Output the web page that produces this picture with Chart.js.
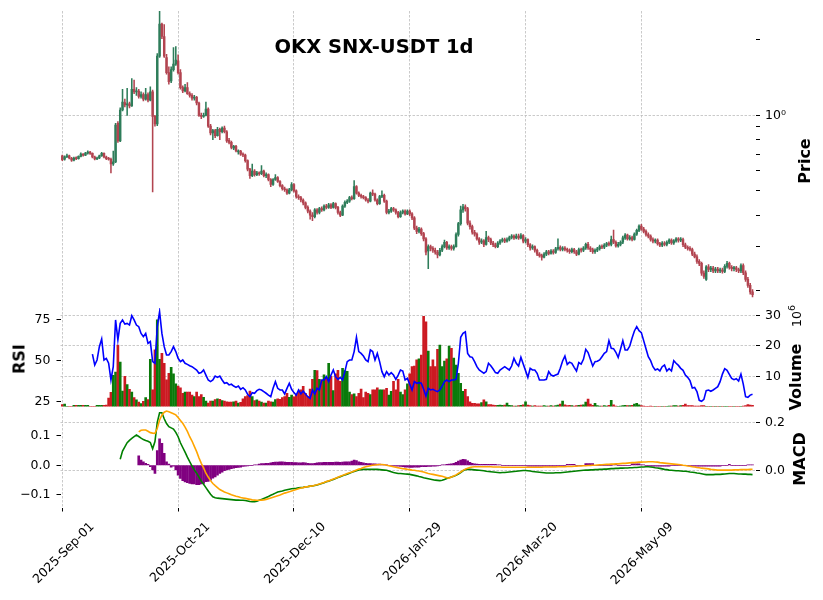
<!DOCTYPE html>
<html>
<head>
<meta charset="utf-8">
<script src="https://cdn.jsdelivr.net/npm/chart.js@4.4.1/dist/chart.umd.min.js"></script>
<style>
  body { margin: 0; background: #fff; }
  #wrap { position: relative; width: 823px; height: 600px; font-family: "DejaVu Sans", sans-serif; color: #000; }
  canvas { position: absolute; left: 0; top: 0; }
  .title { position: absolute; left: 374px; top: 35px; transform: translateX(-50%); font-weight: bold; font-size: 19.5px; white-space: nowrap; line-height: normal; }
  .lbl { position: absolute; white-space: nowrap; transform: translate(-50%, -50%) rotate(-90deg); font-weight: bold; font-size: 16px; }
  .lbl sup { font-size: 9.5px; vertical-align: 6px; }
</style>
</head>
<body>
<div id="wrap">
  <canvas id="priceChart" width="823" height="600"></canvas>
  <canvas id="volChart" width="823" height="600"></canvas>
  <canvas id="macdChart" width="823" height="600"></canvas>
  <div class="title">OKX SNX-USDT 1d</div>
  <div class="lbl" style="left:804px;top:161px">Price</div>
  <div class="lbl" style="left:19px;top:359px">RSI</div>
  <div class="lbl" style="left:795px;top:377px">Volume</div>
  <div class="lbl" style="left:795px;top:316px;font-weight:normal;font-size:12.5px">10<sup>6</sup></div>
  <div class="lbl" style="left:799px;top:459px">MACD</div>
</div>
<script>
// daily candles from 2025-09-01, one per index
const tickIdx = [0, 50, 100, 150, 200, 250];
const tickLabels = ["2025-Sep-01", "2025-Oct-21", "2025-Dec-10", "2026-Jan-29", "2026-Mar-20", "2026-May-09"];

const opens = [
  .690,.668,.684,.690,.674,.662,.676,.672,.686,.700,
  .694,.707,.714,.705,.682,.670,.676,.690,.706,.682,
  .672,.668,.640,.652,.930,.790,1.050,1.125,1.100,1.110,
  1.090,1.270,1.240,1.250,1.190,1.210,1.160,1.210,1.150,1.240,
  .990,.925,1.720,2.310,2.060,1.700,1.480,1.370,1.520,1.600,
  1.650,1.480,1.290,1.250,1.290,1.220,1.200,1.170,1.180,1.120,
  1.000,.990,1.000,1.060,.905,.850,.870,.830,.880,.860,
  .890,.860,.795,.780,.740,.752,.715,.720,.700,.695,
  .660,.610,.575,.600,.580,.590,.585,.600,.575,.580,
  .555,.530,.555,.565,.545,.525,.510,.505,.490,.505,
  .530,.500,.475,.470,.460,.448,.430,.415,.400,.395,
  .420,.410,.425,.420,.435,.430,.440,.430,.445,.430,
  .410,.400,.435,.450,.455,.470,.465,.520,.490,.480,
  .475,.470,.460,.455,.490,.485,.460,.445,.475,.480,
  .455,.410,.415,.425,.420,.410,.395,.410,.415,.405,
  .415,.405,.390,.355,.345,.352,.338,.322,.288,.300,
  .295,.290,.285,.278,.290,.300,.312,.296,.300,.295,
  .300,.335,.370,.420,.432,.425,.372,.360,.342,.336,
  .322,.312,.316,.306,.326,.320,.310,.305,.300,.310,
  .316,.320,.315,.320,.326,.330,.325,.330,.325,.332,
  .315,.320,.305,.296,.300,.290,.280,.276,.272,.280,
  .286,.282,.288,.284,.294,.298,.292,.296,.292,.290,
  .286,.292,.286,.280,.292,.290,.296,.306,.296,.292,
  .286,.290,.294,.300,.298,.304,.308,.306,.320,.312,
  .302,.306,.312,.325,.333,.322,.326,.320,.336,.348,
  .362,.352,.345,.335,.330,.320,.315,.318,.308,.304,
  .310,.306,.312,.318,.310,.316,.322,.318,.320,.305,
  .298,.295,.292,.280,.273,.262,.257,.235,.222,.249,
  .243,.246,.240,.244,.240,.242,.239,.250,.257,.248,
  .245,.247,.243,.240,.252,.236,.222,.210,.198
];
const highs = [
  .695,.690,.700,.694,.680,.682,.684,.690,.708,.704,
  .712,.722,.718,.708,.688,.682,.694,.712,.708,.688,
  .680,.676,.720,.930,.945,1.070,1.270,1.160,1.280,1.130,
  1.400,1.380,1.290,1.270,1.240,1.230,1.280,1.230,1.300,1.260,
  1.000,1.760,2.600,2.330,2.300,1.750,1.560,1.560,1.860,1.880,
  1.740,1.520,1.310,1.330,1.350,1.240,1.220,1.200,1.190,1.130,
  1.020,1.020,1.130,1.070,.920,.880,.880,.895,.890,.900,
  .905,.870,.810,.790,.760,.760,.728,.725,.708,.700,
  .665,.615,.640,.608,.598,.596,.630,.605,.590,.585,
  .560,.560,.580,.570,.550,.530,.518,.510,.512,.540,
  .535,.505,.482,.476,.465,.452,.436,.420,.410,.425,
  .425,.430,.432,.440,.442,.446,.445,.450,.448,.434,
  .415,.440,.456,.462,.476,.478,.550,.525,.496,.486,
  .480,.474,.466,.495,.505,.490,.465,.480,.500,.485,
  .460,.422,.430,.430,.424,.414,.416,.420,.420,.420,
  .420,.410,.395,.362,.358,.356,.342,.326,.305,.304,
  .300,.296,.290,.295,.305,.318,.315,.305,.304,.305,
  .340,.375,.435,.442,.440,.430,.380,.365,.348,.340,
  .326,.322,.320,.345,.330,.324,.315,.310,.314,.320,
  .324,.324,.325,.330,.335,.334,.336,.336,.338,.335,
  .326,.322,.308,.305,.302,.293,.284,.280,.284,.290,
  .290,.292,.292,.298,.322,.302,.300,.300,.296,.294,
  .296,.295,.290,.296,.296,.300,.310,.312,.300,.296,
  .294,.298,.304,.305,.308,.312,.313,.330,.349,.316,
  .312,.316,.330,.338,.336,.332,.330,.340,.352,.366,
  .368,.358,.350,.340,.334,.325,.322,.322,.312,.314,
  .314,.316,.322,.322,.320,.326,.326,.326,.324,.310,
  .302,.300,.296,.285,.278,.266,.260,.240,.252,.254,
  .250,.250,.248,.248,.246,.246,.254,.262,.260,.252,
  .250,.250,.246,.256,.256,.240,.226,.214,.202
];
const lows = [
  .660,.662,.678,.670,.655,.658,.665,.668,.682,.688,
  .690,.700,.698,.676,.664,.665,.672,.686,.676,.666,
  .662,.590,.632,.648,.780,.785,1.040,1.080,1.000,1.070,
  1.085,1.220,1.200,1.170,1.170,1.140,1.150,1.130,1.140,.495,
  .905,.910,1.700,2.020,1.700,1.460,1.330,1.350,1.500,1.580,
  1.460,1.270,1.230,1.240,1.210,1.180,1.150,1.150,1.100,.990,
  .970,.980,.995,.895,.835,.800,.815,.825,.800,.850,
  .850,.780,.770,.735,.730,.715,.700,.692,.685,.650,
  .600,.560,.570,.572,.575,.576,.580,.568,.565,.548,
  .520,.526,.550,.540,.518,.503,.498,.484,.486,.500,
  .494,.468,.462,.452,.440,.424,.408,.386,.380,.390,
  .404,.405,.414,.416,.424,.426,.425,.427,.424,.404,
  .395,.398,.430,.445,.450,.460,.462,.485,.474,.468,
  .464,.455,.448,.452,.478,.455,.440,.442,.470,.450,
  .405,.405,.410,.414,.404,.390,.392,.405,.400,.402,
  .398,.384,.350,.338,.340,.332,.316,.278,.245,.288,
  .284,.280,.270,.275,.286,.296,.292,.292,.290,.290,
  .298,.330,.365,.410,.415,.366,.352,.336,.330,.318,
  .306,.308,.300,.304,.314,.305,.300,.296,.297,.306,
  .312,.311,.312,.316,.322,.320,.322,.320,.322,.310,
  .310,.300,.290,.292,.285,.276,.272,.265,.270,.276,
  .278,.280,.280,.282,.290,.288,.288,.288,.285,.282,
  .283,.282,.276,.278,.285,.286,.292,.292,.286,.282,
  .282,.286,.290,.294,.294,.300,.302,.302,.308,.298,
  .298,.302,.308,.320,.318,.318,.316,.318,.332,.344,
  .348,.340,.330,.325,.315,.310,.310,.304,.300,.300,
  .302,.302,.308,.306,.306,.312,.312,.314,.300,.294,
  .290,.288,.276,.270,.257,.252,.230,.224,.220,.238,
  .238,.236,.236,.236,.236,.235,.236,.246,.244,.240,
  .240,.238,.236,.236,.232,.218,.206,.194,.189
];
const closes = [
  .665,.684,.690,.676,.662,.676,.672,.686,.700,.694,
  .707,.714,.705,.682,.670,.676,.690,.706,.682,.672,
  .668,.640,.652,.915,.790,1.050,1.130,1.100,1.110,1.090,
  1.270,1.240,1.250,1.190,1.210,1.160,1.210,1.150,1.240,.990,
  .925,1.720,2.310,2.060,1.720,1.480,1.360,1.520,1.600,1.660,
  1.480,1.290,1.250,1.290,1.220,1.200,1.170,1.180,1.120,1.000,
  .990,1.000,1.060,.905,.850,.870,.830,.880,.860,.890,
  .860,.790,.780,.745,.752,.722,.720,.700,.695,.660,
  .610,.575,.600,.580,.590,.585,.600,.575,.580,.555,
  .530,.555,.565,.545,.525,.510,.505,.490,.505,.530,
  .500,.475,.470,.460,.448,.430,.415,.400,.395,.420,
  .410,.425,.420,.435,.430,.440,.430,.445,.430,.410,
  .400,.435,.450,.455,.470,.465,.520,.490,.480,.475,
  .470,.460,.455,.490,.485,.460,.445,.475,.480,.455,
  .410,.415,.425,.420,.410,.395,.410,.415,.405,.415,
  .405,.390,.355,.345,.352,.338,.322,.285,.300,.295,
  .290,.285,.278,.290,.300,.312,.296,.300,.295,.300,
  .335,.370,.420,.432,.425,.372,.360,.342,.336,.322,
  .312,.316,.306,.326,.320,.310,.305,.300,.310,.316,
  .320,.315,.320,.326,.330,.325,.330,.325,.332,.315,
  .320,.305,.296,.300,.290,.280,.276,.272,.280,.286,
  .282,.288,.284,.294,.298,.292,.296,.292,.290,.286,
  .292,.286,.280,.292,.290,.296,.306,.296,.292,.286,
  .290,.294,.300,.298,.304,.308,.306,.320,.312,.302,
  .306,.312,.325,.333,.322,.326,.320,.336,.348,.362,
  .352,.345,.335,.330,.320,.315,.318,.308,.304,.310,
  .306,.312,.318,.310,.316,.322,.318,.320,.305,.298,
  .295,.292,.280,.273,.262,.257,.235,.228,.249,.243,
  .246,.240,.244,.240,.242,.239,.250,.257,.248,.245,
  .247,.243,.240,.252,.236,.222,.210,.198,.193
];
// volume in millions
const volumes = [
  0.7,0.8,0.1,0.1,0.1,0.4,0.4,0.4,0.4,0.4,
  0.4,0.4,0.1,0.1,0.1,0.4,0.4,0.4,0.4,0.5,
  2.8,4.7,10.3,11.4,20.3,14.7,5.1,10.0,7.3,5.7,
  4.8,3.0,2.2,1.5,1.0,1.7,3.0,2.3,15.6,5.5,
  18.7,28.6,15.6,17.6,14.3,8.8,11.0,13.0,10.8,7.5,
  6.8,6.2,4.4,4.8,4.8,4.8,3.8,3.3,4.8,3.3,
  4.0,3.1,1.8,1.2,1.8,1.8,2.3,2.6,2.4,2.0,
  1.8,1.6,1.5,1.5,1.6,1.8,1.2,1.4,2.6,3.3,
  3.6,5.1,3.3,2.0,2.2,1.8,1.5,1.2,1.2,1.8,
  1.6,1.5,2.3,2.6,2.4,3.0,3.3,4.4,3.1,3.8,
  3.2,4.0,4.8,5.5,6.7,4.4,3.3,5.8,9.0,12.0,
  11.9,9.0,8.7,10.5,9.7,14.3,10.0,5.3,10.8,12.0,
  8.3,12.6,11.9,11.6,4.8,4.0,4.2,3.3,4.4,5.8,
  3.0,4.8,4.4,4.0,5.5,5.5,6.2,5.5,5.5,5.5,
  6.0,3.8,5.0,8.3,5.5,9.0,4.8,4.0,5.5,7.5,
  10.8,13.2,13.4,15.4,15.8,17.0,29.8,28.0,18.3,13.2,
  15.4,13.2,18.9,20.3,13.2,15.0,15.8,20.0,19.2,16.0,
  13.7,11.0,7.7,5.0,5.7,3.3,1.6,1.1,1.1,0.9,
  0.9,1.3,2.2,1.6,0.7,0.7,0.5,0.4,0.4,0.5,
  0.4,0.5,1.2,0.4,0.3,0.2,0.2,0.3,0.4,0.6,
  1.6,0.5,0.3,0.2,0.3,0.2,0.2,0.2,0.3,0.2,
  0.2,0.3,0.2,0.3,0.5,0.8,1.8,0.6,0.3,0.4,
  0.3,0.2,0.3,0.4,0.5,0.6,1.5,2.5,0.8,0.4,
  1.1,0.3,0.2,0.2,0.3,0.2,0.4,2.1,0.6,0.2,
  0.1,0.2,0.3,0.4,0.3,0.3,0.4,0.8,1.1,0.6,
  0.3,0.2,0.1,0.1,0.2,0.1,0.1,0.1,0.1,0.1,
  0.1,0.1,0.2,0.2,0.3,0.3,0.2,0.3,0.4,0.8,
  0.3,0.3,0.3,0.2,0.2,0.2,0.3,0.3,0.1,0.1,
  0.1,0.1,0.1,0.1,0.1,0.1,0.1,0.1,0.1,0.1,
  0.1,0.1,0.1,0.1,0.2,0.3,0.7,0.5,0.4
];
const rsiStart = 13;
const rsi = [
  53.8,47.1,50.2,58.3,63.0,50.2,51.2,
  48.2,38.0,46.1,74.6,62.4,72.5,74.6,72.1,72.5,71.5,
  77.2,74.6,71.5,70.5,66.4,64.4,66.4,60.3,61.4,49.2,
  48.2,70.5,79.6,66.4,58.3,53.2,53.2,55.3,58.3,55.3,
  51.2,49.2,50.2,48.2,47.5,46.7,46.1,45.1,44.1,42.1,
  42.5,44.1,41.0,38.0,37.0,38.0,40.4,39.6,40.4,38.0,
  36.0,36.4,35.0,35.4,34.3,33.5,34.3,32.3,33.3,31.9,
  29.3,27.8,30.3,29.9,31.5,32.3,31.9,30.9,29.9,28.8,
  27.8,32.9,37.0,32.9,31.9,31.9,29.5,32.9,36.0,32.3,
  30.3,28.8,31.9,29.5,31.3,29.5,27.8,26.8,31.9,29.5,
  32.9,31.9,38.0,38.0,40.0,37.0,41.0,44.1,40.0,38.4,
  39.6,38.0,43.1,49.2,50.2,50.2,55.3,64.0,55.3,54.2,
  52.6,50.2,49.2,56.3,55.3,50.2,54.2,49.2,43.1,40.0,
  43.1,41.0,42.5,41.0,38.4,41.0,44.1,43.5,38.0,39.0,
  35.4,31.9,37.0,36.0,36.4,36.0,32.3,28.2,32.9,31.9,
  32.3,31.5,30.9,31.9,34.3,37.0,38.0,37.0,38.0,38.0,
  38.4,48.2,64.0,66.4,67.3,54.2,52.2,51.8,49.2,46.1,
  44.1,43.1,42.1,43.1,48.2,46.7,44.7,42.5,42.1,44.1,
  45.1,46.1,45.1,44.1,46.5,51.2,48.2,46.5,51.8,47.7,
  43.7,39.6,45.1,44.1,44.1,42.1,38.0,38.0,38.0,38.4,
  43.1,41.0,40.4,41.0,41.6,45.1,49.6,52.6,47.5,48.9,
  48.2,45.7,43.5,48.6,47.7,50.6,56.7,54.7,50.6,46.5,
  49.2,49.4,50.2,52.2,54.2,55.3,62.0,57.3,57.1,54.9,
  51.8,56.7,62.0,56.3,56.3,58.7,63.6,67.9,70.5,68.1,
  66.9,62.0,57.1,52.2,49.8,46.1,44.1,44.7,43.5,46.1,
  47.1,43.5,44.9,43.5,49.8,48.2,46.9,45.1,43.9,41.0,
  39.6,37.6,33.1,33.5,30.9,25.6,25.0,26.2,31.5,31.9,
  31.1,31.9,32.9,33.9,37.0,41.6,44.9,43.9,41.4,39.0,
  38.2,38.8,37.4,41.6,35.5,27.8,27.4,28.8,29.3
];
const macdStart = 25;
const macd = [
  0.046,0.080,0.098,0.115,0.125,
  0.133,0.140,0.147,0.141,0.134,0.128,0.124,0.121,0.116,0.090,
  0.120,0.200,0.240,0.240,0.215,0.195,0.182,0.177,0.172,0.158,
  0.140,0.115,0.095,0.076,0.055,0.036,0.018,0.002,-0.012,-0.028,
  -0.045,-0.058,-0.072,-0.086,-0.100,-0.110,-0.114,-0.116,-0.117,-0.118,
  -0.119,-0.120,-0.121,-0.122,-0.123,-0.124,-0.124,-0.125,-0.125,-0.126,
  -0.128,-0.130,-0.131,-0.131,-0.129,-0.125,-0.121,-0.117,-0.113,-0.109,
  -0.104,-0.100,-0.095,-0.090,-0.088,-0.086,-0.083,-0.081,-0.079,-0.077,
  -0.076,-0.075,-0.073,-0.072,-0.071,-0.069,-0.068,-0.066,-0.065,-0.063,
  -0.061,-0.058,-0.055,-0.052,-0.048,-0.045,-0.041,-0.038,-0.034,-0.030,
  -0.027,-0.023,-0.019,-0.016,-0.012,-0.008,-0.005,-0.002,0.001,0.003,
  0.004,0.004,0.004,0.004,0.004,0.004,0.004,0.003,0.002,0.001,
  0.000,-0.003,-0.006,-0.009,-0.011,-0.013,-0.013,-0.014,-0.015,-0.016,
  -0.017,-0.019,-0.021,-0.023,-0.026,-0.028,-0.031,-0.033,-0.035,-0.037,
  -0.039,-0.041,-0.042,-0.043,-0.041,-0.038,-0.034,-0.031,-0.028,-0.025,
  -0.021,-0.016,-0.009,-0.002,0.003,0.004,0.004,0.003,0.002,0.001,
  0.000,-0.001,-0.002,-0.004,-0.005,-0.006,-0.007,-0.008,-0.009,-0.010,
  -0.009,-0.009,-0.008,-0.007,-0.006,-0.005,-0.004,-0.003,-0.002,-0.001,
  -0.001,-0.002,-0.003,-0.005,-0.006,-0.007,-0.008,-0.009,-0.010,-0.011,
  -0.011,-0.011,-0.011,-0.010,-0.010,-0.010,-0.009,-0.008,-0.007,-0.006,
  -0.005,-0.004,-0.003,-0.002,-0.001,0.000,0.001,0.001,0.002,0.002,
  0.003,0.003,0.004,0.004,0.005,0.005,0.006,0.007,0.007,0.008,
  0.008,0.009,0.009,0.010,0.010,0.011,0.011,0.012,0.012,0.013,
  0.014,0.014,0.015,0.015,0.014,0.013,0.011,0.010,0.008,0.006,
  0.004,0.003,0.001,0.000,-0.001,-0.002,-0.002,-0.003,-0.004,-0.004,
  -0.005,-0.007,-0.008,-0.009,-0.011,-0.012,-0.014,-0.016,-0.018,-0.018,
  -0.018,-0.018,-0.017,-0.017,-0.017,-0.016,-0.015,-0.014,-0.013,-0.013,
  -0.013,-0.014,-0.015,-0.015,-0.016,-0.016,-0.017,-0.017,-0.018
];
const signalStart = 33;
const signal = [
  0.160,0.167,0.168,0.168,0.163,0.157,0.155,
  0.154,0.175,0.210,0.230,0.242,0.247,0.244,0.240,0.236,0.231,
  0.220,0.208,0.196,0.180,0.162,0.140,0.122,0.100,0.078,0.052,
  0.029,0.010,-0.012,-0.028,-0.043,-0.055,-0.064,-0.072,-0.080,-0.085,
  -0.090,-0.094,-0.098,-0.102,-0.105,-0.108,-0.110,-0.113,-0.115,-0.117,
  -0.119,-0.121,-0.123,-0.124,-0.125,-0.125,-0.124,-0.123,-0.121,-0.118,
  -0.115,-0.112,-0.109,-0.106,-0.103,-0.099,-0.095,-0.092,-0.089,-0.086,
  -0.083,-0.080,-0.077,-0.074,-0.072,-0.069,-0.068,-0.066,-0.065,-0.062,
  -0.060,-0.057,-0.054,-0.051,-0.047,-0.044,-0.040,-0.036,-0.033,-0.029,
  -0.025,-0.021,-0.017,-0.013,-0.010,-0.007,-0.003,0.001,0.005,0.008,
  0.012,0.015,0.017,0.019,0.021,0.022,0.023,0.024,0.024,0.023,
  0.021,0.019,0.017,0.015,0.013,0.011,0.009,0.007,0.006,0.004,
  0.003,0.001,0.000,-0.002,-0.003,-0.005,-0.007,-0.010,-0.013,-0.015,
  -0.017,-0.019,-0.021,-0.023,-0.025,-0.028,-0.031,-0.033,-0.028,-0.024,
  -0.019,-0.013,-0.007,0.000,0.005,0.009,0.012,0.014,0.015,0.015,
  0.015,0.015,0.015,0.015,0.015,0.015,0.014,0.014,0.014,0.014,
  0.013,0.013,0.013,0.013,0.013,0.013,0.013,0.013,0.013,0.013,
  0.013,0.013,0.013,0.013,0.013,0.013,0.013,0.013,0.014,0.014,
  0.014,0.014,0.014,0.014,0.015,0.015,0.015,0.015,0.016,0.016,
  0.016,0.017,0.017,0.018,0.018,0.019,0.019,0.020,0.020,0.021,
  0.021,0.022,0.023,0.023,0.024,0.025,0.025,0.026,0.026,0.027,
  0.027,0.028,0.029,0.029,0.030,0.031,0.032,0.032,0.033,0.034,
  0.034,0.035,0.035,0.036,0.036,0.036,0.035,0.034,0.032,0.031,
  0.030,0.029,0.028,0.027,0.026,0.025,0.024,0.023,0.021,0.020,
  0.018,0.017,0.015,0.014,0.012,0.011,0.009,0.008,0.007,0.006,
  0.004,0.003,0.002,0.001,0.001,0.001,0.001,0.001,0.001,0.001,
  0.002,0.002,0.002,0.003,0.003,0.003,0.003,0.004,0.004
];
const hist = [
  0.032,0.018,0.012,0.007,0.003,-0.005,-0.016,
  -0.027,0.050,0.089,0.074,0.040,0.012,0.004,-0.006,-0.003,-0.016,
  -0.033,-0.044,-0.052,-0.056,-0.059,-0.061,-0.063,-0.063,-0.065,-0.065,
  -0.063,-0.061,-0.055,-0.054,-0.050,-0.043,-0.039,-0.033,-0.027,-0.023,
  -0.018,-0.016,-0.014,-0.011,-0.010,-0.008,-0.007,-0.006,-0.004,-0.003,
  -0.002,-0.001,0.000,0.001,0.002,0.004,0.006,0.006,0.007,0.007,
  0.008,0.010,0.011,0.011,0.012,0.012,0.011,0.010,0.010,0.010,
  0.009,0.009,0.008,0.008,0.009,0.008,0.007,0.006,0.006,0.007,
  0.008,0.009,0.009,0.010,0.010,0.010,0.010,0.010,0.011,0.011,
  0.010,0.011,0.012,0.012,0.012,0.014,0.018,0.016,0.012,0.010,
  0.008,0.007,0.006,0.006,0.005,0.005,0.004,0.004,0.003,0.002,
  0.001,0.000,-0.001,-0.002,-0.003,-0.003,-0.004,-0.005,-0.006,-0.006,
  -0.007,-0.007,-0.006,-0.006,-0.006,-0.005,-0.005,-0.005,-0.004,-0.004,
  -0.003,-0.003,-0.002,-0.001,0.001,0.002,0.003,0.004,0.005,0.007,
  0.010,0.014,0.018,0.020,0.019,0.015,0.010,0.007,0.005,0.004,
  0.003,0.003,0.003,0.003,0.003,0.003,0.003,0.003,0.002,0.002,
  0,0,0,0,0,0,0,0,0,0,
  0,-0.003,-0.003,-0.003,-0.003,-0.003,-0.003,-0.003,-0.003,-0.003,
  -0.003,-0.003,-0.003,-0.003,0,0,0,0,0.003,0.003,
  0.003,0.003,0,0,0,0,0.006,0.006,0.006,0.006,
  0,0,0,0,0,0,0,0,0.003,0.003,
  0,0,0,0,0,0,0.005,0.005,0.005,0.005,
  0.002,0.002,0,0,-0.003,-0.003,-0.003,-0.003,-0.003,-0.003,
  -0.003,-0.003,-0.003,0,0,0,0,0,0,0,
  0,0,-0.003,-0.003,-0.003,-0.003,-0.003,-0.003,-0.003,-0.003,
  -0.003,-0.003,-0.003,-0.003,-0.003,0,0,0,0.003,0,
  0,0,0,0,0,0,0.002,0.002,0.002
];
const priceTicks = [0.2, 0.3, 0.4, 0.5, 0.6, 0.7, 0.8, 0.9, 1, 2];
const rsiTicks = [25, 50, 75];
const volTicks = [10, 20, 30];
const macdLeftTicks = [-0.1, 0, 0.1];
const macdRightTicks = [0, 0.2];

const upCandle = "#2e7d5a", downCandle = "#b24450";
const upVol = "#0a7a0a", downVol = "#cc1a22";
const gridColor = "#bdbdbd";

Chart.defaults.font.family = "'DejaVu Sans', sans-serif";
Chart.defaults.font.size = 12.5;
Chart.defaults.color = "#000";

const idx = closes.map((c, i) => i);
const isUp = idx.map(i => closes[i] >= opens[i]);

const setTicks = list => s => { s.ticks = list.map(v => ({ value: v })); };
const fixWidth = w => s => { s.width = w; s.paddingTop = 0; s.paddingBottom = 0; };
const fmt1 = v => (v < 0 ? "\u2212" : "") + Math.abs(v).toFixed(1);

function xScale(showLabels) {
  return {
    type: "linear", min: -0.78, max: 299.5, offset: false,
    afterBuildTicks: setTicks(tickIdx),
    afterFit: s => { s.height = showLabels ? 92.5 : 0; s.paddingLeft = 0; s.paddingRight = 0; },
    grid: { color: gridColor, lineWidth: 0.8, offset: false, drawTicks: showLabels, tickLength: 4, tickColor: "#000", tickWidth: 1 },
    border: { display: false, dash: [2.5, 1.5] },
    ticks: {
      display: showLabels, autoSkip: false, maxRotation: 45, minRotation: 45,
      labelOffset: 30, padding: 8, callback: (v, k) => tickLabels[k]
    }
  };
}

function yScale(pos, min, max, list, gridOn, fmt) {
  return {
    type: "linear", position: pos, min: min, max: max,
    afterBuildTicks: setTicks(list),
    afterFit: fixWidth(pos === "left" ? 60.5 : 67),
    grid: { drawOnChartArea: gridOn, color: gridColor, lineWidth: 0.8, drawTicks: true, tickLength: 4, tickColor: "#000", tickWidth: 1 },
    border: { display: false, dash: [2.5, 1.5] },
    ticks: { autoSkip: false, padding: pos === "left" ? 6 : 5, callback: fmt }
  };
}

function baseOptions(padding, scales) {
  return {
    responsive: false, animation: false, devicePixelRatio: 1,
    layout: { padding: padding },
    plugins: { legend: { display: false }, tooltip: { enabled: false } },
    scales: scales
  };
}

// PRICE PANEL
new Chart("priceChart", {
  type: "bar",
  data: {
    datasets: [
      {
        data: idx.map(i => ({ x: i, y: [Math.min(opens[i], closes[i]), Math.max(opens[i], closes[i])] })),
        backgroundColor: idx.map(i => isUp[i] ? upCandle : downCandle),
        barThickness: 1.8, grouped: false, minBarLength: 1, order: 0
      },
      {
        data: idx.map(i => ({ x: i, y: [lows[i], highs[i]] })),
        backgroundColor: idx.map(i => isUp[i] ? upCandle : downCandle),
        barThickness: 0.9, grouped: false, order: 1
      }
    ]
  },
  options: baseOptions({ left: 60.5, right: 0, top: 11, bottom: 292 }, {
    x: xScale(false),
    y: {
      type: "logarithmic", position: "right", min: 0.17073, max: 2.6036,
      afterBuildTicks: setTicks(priceTicks),
      afterFit: fixWidth(67),
      grid: {
        color: c => (c.tick && c.tick.value === 1) ? gridColor : "rgba(0,0,0,0)",
        lineWidth: 0.8, drawTicks: true, tickLength: 4, tickColor: "#000", tickWidth: 1
      },
      border: { display: false, dash: [2.5, 1.5] },
      ticks: { autoSkip: false, padding: 5, callback: v => v === 1 ? "10\u2070" : "" }
    }
  })
});

// VOLUME + RSI PANEL
new Chart("volChart", {
  type: "bar",
  data: {
    datasets: [
      {
        type: "line", yAxisID: "yRsi", order: 0,
        data: rsi.map((v, k) => ({ x: rsiStart + k, y: v })),
        borderColor: "#0000ff", borderWidth: 1.6, pointRadius: 0, tension: 0
      },
      {
        yAxisID: "yVol", order: 1,
        data: idx.map(i => ({ x: i, y: volumes[i] })),
        backgroundColor: idx.map(i => isUp[i] ? upVol : downVol),
        barThickness: 2, grouped: false
      }
    ]
  },
  options: baseOptions({ left: 0, right: 0, top: 308, bottom: 193.4 }, {
    x: xScale(false),
    yRsi: yScale("left", 21.77, 81.89, rsiTicks, false, v => String(v)),
    yVol: yScale("right", 0, 32.54, volTicks, true, v => String(v))
  })
});

// MACD PANEL
new Chart("macdChart", {
  type: "bar",
  data: {
    datasets: [
      {
        type: "line", yAxisID: "yR", order: 0,
        data: signal.map((v, k) => ({ x: signalStart + k, y: v })),
        borderColor: "#ffa500", borderWidth: 1.6, pointRadius: 0, tension: 0
      },
      {
        type: "line", yAxisID: "yR", order: 1,
        data: macd.map((v, k) => ({ x: macdStart + k, y: v })),
        borderColor: "#008000", borderWidth: 1.6, pointRadius: 0, tension: 0
      },
      {
        yAxisID: "yL", order: 2,
        data: hist.map((v, k) => ({ x: signalStart + k, y: v })),
        backgroundColor: "#800080", barThickness: 2, grouped: false
      }
    ]
  },
  options: baseOptions({ left: 0, right: 0, top: 408, bottom: 0 }, {
    x: xScale(true),
    yL: yScale("left", -0.14233, 0.19325, macdLeftTicks, false, fmt1),
    yR: yScale("right", -0.1549, 0.2597, macdRightTicks, true, fmt1)
  })
});
</script>
</body>
</html>
